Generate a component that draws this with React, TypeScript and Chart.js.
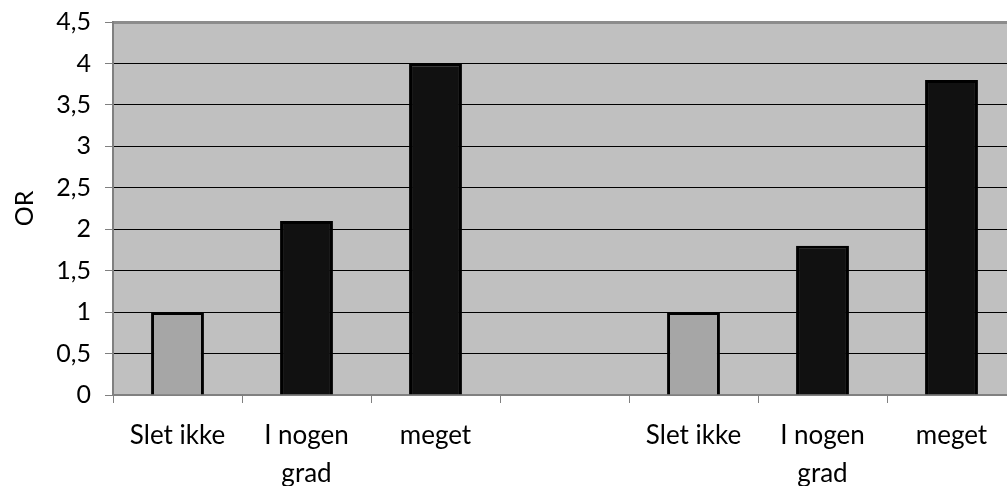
import React, { useEffect, useRef } from "react";
import { Chart, registerables } from "chart.js";

Chart.register(...registerables);

const categories: (string | string[])[] = ["Slet ikke", ["I nogen", "grad"], "meget", "", "Slet ikke", ["I nogen", "grad"], "meget"];
const orValues: (number | null)[] = [1, 2.1, 4.0, null, 1, 1.8, 3.8];
const barColors = ["#A6A6A6", "#111111", "#111111", "#111111", "#A6A6A6", "#111111", "#111111"];
const yTitle = "OR";

const FONT = "Lato, 'Open Sans', sans-serif";

const bgPlugin = {
  id: "plotBg",
  beforeDraw(chart: any) {
    const { ctx, chartArea } = chart;
    if (!chartArea) return;
    ctx.save();
    ctx.fillStyle = "#C0C0C0";
    ctx.fillRect(chartArea.left, chartArea.top, chartArea.right - chartArea.left, chartArea.bottom - chartArea.top);
    ctx.restore();
  },
};

export default function App() {
  const ref = useRef<HTMLCanvasElement | null>(null);
  useEffect(() => {
    document.body.style.margin = "0";
    document.body.style.overflow = "hidden";
    const chart = new Chart(ref.current!, {
      type: "bar",
      data: {
        labels: categories,
        datasets: [
          {
            data: orValues,
            backgroundColor: barColors,
            borderColor: "#000000",
            borderWidth: 3,
            barPercentage: 0.41,
            categoryPercentage: 1,
          },
        ],
      },
      options: {
        responsive: false,
        animation: false,
        layout: { padding: { top: 22, right: 0, left: 0, bottom: 0 } },
        plugins: { legend: { display: false }, tooltip: { enabled: false } },
        scales: {
          x: {
            afterFit: (axis: any) => { axis.height = 91; axis.paddingLeft = 0; axis.paddingRight = 0; },
            grid: {
              offset: true,
              drawOnChartArea: false,
              drawTicks: true,
              tickLength: 8,
              tickColor: "#808080",
              tickWidth: 1,
            },
            border: { color: "#808080", width: 2 },
            ticks: {
              color: "#000",
              font: { family: FONT, size: 26, lineHeight: 1.45 },
              padding: 14,
              maxRotation: 0,
              autoSkip: false,
            },
          },
          y: {
            min: 0,
            max: 4.5,
            afterFit: (axis: any) => { axis.width = 113; axis.paddingTop = 0; axis.paddingBottom = 0; },
            grid: {
              color: (c: any) => (c.tick && c.tick.value === 4.5 ? "#8C8C8C" : "#000000"),
              lineWidth: (c: any) => (c.tick && c.tick.value === 4.5 ? 3 : 1),
              tickColor: "#808080",
              tickLength: 8,
              tickWidth: 1,
            },
            border: { color: "#808080", width: 2 },
            ticks: {
              stepSize: 0.5,
              color: "#000",
              font: { family: FONT, size: 25 },
              padding: 14,
              callback: (v: any) => String(v).replace(".", ","),
            },
            title: {
              display: true,
              text: yTitle,
              color: "#000",
              font: { family: FONT, size: 25 },
              padding: { top: 10, bottom: 0 },
            },
          },
        },
      },
      plugins: [bgPlugin],
    });
    return () => chart.destroy();
  }, []);
  return (
    <div style={{ width: 1007, height: 486, overflow: "hidden", position: "relative" }}>
      <canvas ref={ref} width={1016} height={486} style={{ position: "absolute", left: 0, top: 0 }} />
    </div>
  );
}
